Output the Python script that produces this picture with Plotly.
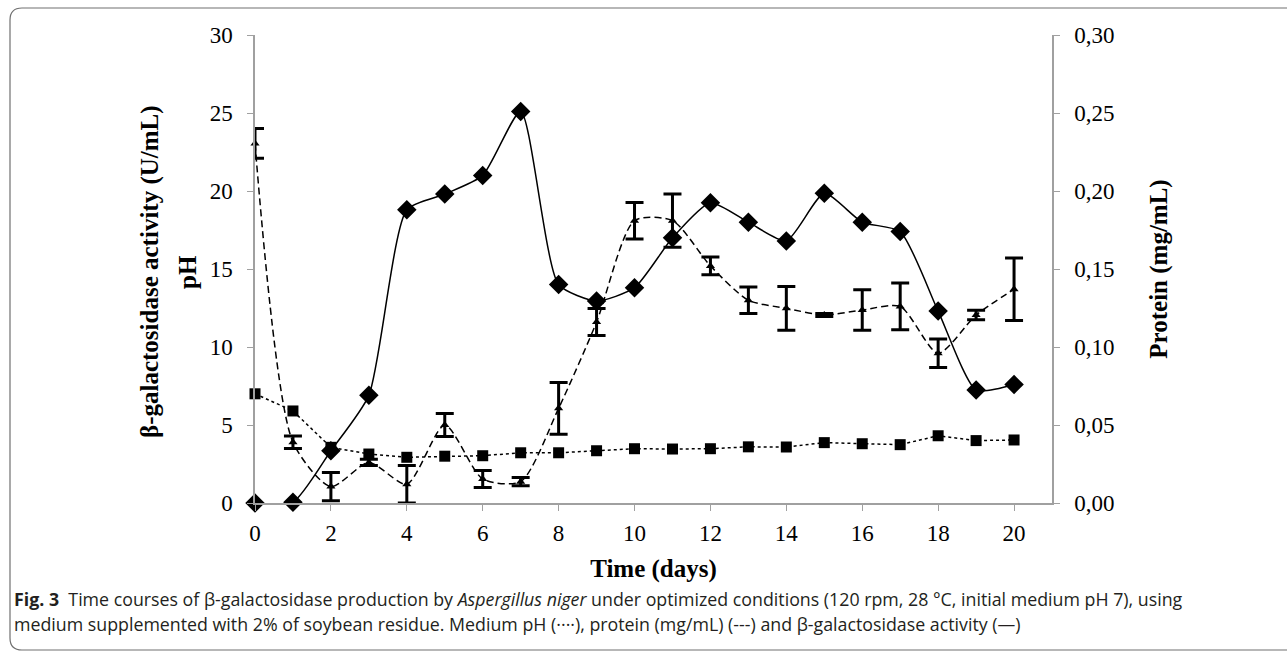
import plotly.graph_objects as go

days = list(range(0, 21))
activity = [0, 0.05, 3.35, 6.9, 18.8, 19.8, 21.0, 25.1, 14.0, 12.95, 13.8,
            17.0, 19.25, 18.0, 16.8, 19.85, 18.0, 17.4, 12.3, 7.25, 7.6]
ph = [7.0, 5.9, 3.57, 3.14, 2.93, 3.0, 3.03, 3.22, 3.22, 3.35, 3.48,
      3.46, 3.48, 3.6, 3.59, 3.87, 3.8, 3.74, 4.31, 4.0, 4.04]
protein = [0.2305, 0.039, 0.0105, 0.026, 0.012, 0.050, 0.0154, 0.0137, 0.0607, 0.116, 0.181,
           0.181, 0.152, 0.130, 0.1248, 0.1205, 0.1237, 0.126, 0.096, 0.1205, 0.137]
protein_err = [0.0095, 0.004, 0.009, 0.002, 0.012, 0.0074, 0.0055, 0.0027, 0.0166, 0.0087, 0.0117,
               0.017, 0.0057, 0.0085, 0.014, 0.001, 0.013, 0.015, 0.0092, 0.003, 0.02]

x_ticks = list(range(0, 21, 2))
left_title_1 = "β-galactosidase activity (U/mL)"
left_title_2 = "pH"
right_title = "Protein (mg/mL)"
x_title = "Time (days)"
caption1 = ("<b>Fig. 3</b>  Time courses of β-galactosidase production by <i>Aspergillus niger</i> "
            "under optimized conditions (120 rpm, 28 °C, initial medium pH 7), using")
caption2 = ("medium supplemented with 2% of soybean residue. Medium pH (····), protein (mg/mL) (---) "
            "and β-galactosidase activity (—)")

W, H = 1287, 655
L, R, T, B = 255, 1052, 35, 503


def px(x):
    return (x - L) / (R - L)


def py(y):
    return (B - y) / (B - T)


fig = go.Figure()

fig.add_trace(go.Scatter(
    x=days, y=protein, yaxis="y2", mode="lines+markers",
    line=dict(color="black", width=1.5, dash="7px,4px", shape="spline", smoothing=0.7),
    marker=dict(symbol="triangle-up", size=8, color="black"),
    error_y=dict(type="data", array=protein_err, visible=True, color="black", thickness=3, width=9),
    cliponaxis=False, showlegend=False))

fig.add_trace(go.Scatter(
    x=days, y=ph, mode="lines+markers",
    line=dict(color="black", width=1.5, dash="dot"),
    marker=dict(symbol="square", size=11, color="black"),
    cliponaxis=False, showlegend=False))

fig.add_trace(go.Scatter(
    x=days, y=activity, mode="lines+markers",
    line=dict(color="black", width=1.5, shape="spline", smoothing=0.6),
    marker=dict(symbol="diamond", size=15, color="black"),
    cliponaxis=False, showlegend=False))

axis_font = dict(family="Liberation Serif", size=23, color="black")
title_font = dict(family="Liberation Serif", size=25, color="black")

fig.update_layout(
    width=W, height=H,
    margin=dict(l=L, r=W - R, t=T, b=H - B),
    paper_bgcolor="white", plot_bgcolor="white",
    separators=", ",
    xaxis=dict(range=[0, 21], tickvals=x_ticks, showgrid=False, zeroline=False,
               showline=True, linecolor="#a0a0a0", linewidth=1.5,
               ticks="outside", ticklen=6, tickcolor="#a0a0a0", tickfont=axis_font,
               ticklabelstandoff=3,
               title=dict(text=f"<b>{x_title}</b>", font=title_font, standoff=14)),
    yaxis=dict(range=[0, 30], dtick=5, showgrid=False, zeroline=False,
               showline=True, linecolor="#a0a0a0", linewidth=1.5,
               ticks="outside", ticklen=6, tickcolor="#a0a0a0", tickfont=axis_font,
               ticklabelstandoff=10),
    yaxis2=dict(range=[0, 0.30], dtick=0.05, tickformat=".2f", overlaying="y", side="right",
                showgrid=False, zeroline=False,
                showline=True, linecolor="#a0a0a0", linewidth=1.5,
                ticks="outside", ticklen=6, tickcolor="#a0a0a0", tickfont=axis_font,
                ticklabelstandoff=10,
                title=dict(text=f"<b>{right_title}</b>", font=title_font, standoff=36)),
)

fig.add_annotation(text=f"<b>{left_title_1}</b>", xref="paper", yref="paper", x=px(150), y=py(272),
                   xanchor="center", yanchor="middle", textangle=-90, showarrow=False, font=title_font)
fig.add_annotation(text=f"<b>{left_title_2}</b>", xref="paper", yref="paper", x=px(187), y=py(272),
                   xanchor="center", yanchor="middle", textangle=-90, showarrow=False, font=title_font)

# rounded frame around the figure
path = (f"M {px(1295)},{py(8)} L {px(22)},{py(8)} Q {px(10)},{py(8)} {px(10)},{py(20)} "
        f"L {px(10)},{py(638)} Q {px(10)},{py(650)} {px(22)},{py(650)} L {px(1295)},{py(650)}")
fig.add_shape(type="path", path=path, xref="paper", yref="paper",
              line=dict(color="#707070", width=1.2), layer="below")

cap_font = dict(family="Open Sans", size=17.8, color="#231f20")
fig.add_annotation(text=caption1, xref="paper", yref="paper", x=px(12), y=py(599),
                   xanchor="left", yanchor="middle", showarrow=False, font=cap_font)
fig.add_annotation(text=caption2, xref="paper", yref="paper", x=px(12), y=py(624),
                   xanchor="left", yanchor="middle", showarrow=False, font=cap_font)

fig.write_html("out.html", config={"displayModeBar": False},
               post_script="document.body.style.margin='0px';document.body.style.overflow='hidden';")
